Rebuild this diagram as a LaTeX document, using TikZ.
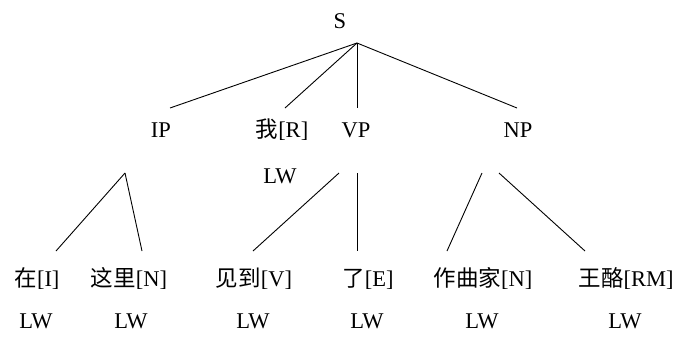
\documentclass[tikz,border=0pt]{standalone}
\usepackage{fontspec}
\setmainfont{Liberation Serif}
\newfontfamily\cjk{Noto Sans CJK SC}
\begin{document}
\begin{tikzpicture}[x=1pt,y=-1pt,
  lbl/.style={anchor=base,inner sep=0pt,font=\fontsize{22.5}{27}\selectfont},
  br/.style={line width=0.9pt}]
\useasboundingbox (0,0) rectangle (680,338);
% labels
\node[lbl] (S) at (340,28) {S};
\node[lbl] (IP) at (161,137) {IP};
\node[lbl] (R) at (282,137) {{\cjk 我}[R]};
\node[lbl] (VP) at (356,137) {VP};
\node[lbl] (NP) at (518,137) {NP};
\node[lbl] (RLW) at (280,183) {LW};
\node[lbl] (I) at (37,286) {{\cjk 在}[I]};
\node[lbl] (N1) at (129,286) {{\cjk 这里}[N]};
\node[lbl] (V) at (254,286) {{\cjk 见到}[V]};
\node[lbl] (E) at (368,286) {{\cjk 了}[E]};
\node[lbl] (N2) at (483,286) {{\cjk 作曲家}[N]};
\node[lbl] (RM) at (626,286) {{\cjk 王酪}[RM]};
\node[lbl] (ILW) at (36,328) {LW};
\node[lbl] (N1LW) at (131,328) {LW};
\node[lbl] (VLW) at (253,328) {LW};
\node[lbl] (ELW) at (367,328) {LW};
\node[lbl] (N2LW) at (482,328) {LW};
\node[lbl] (RMLW) at (625,328) {LW};
% connector end points
\coordinate (Sa) at (357,43);
\coordinate (IPt) at (170,108);
\coordinate (Rt) at (285,108);
\coordinate (VPt) at (357,108);
\coordinate (NPt) at (517,108);
\coordinate (IPa) at (125,173);
\coordinate (It) at (56,251);
\coordinate (N1t) at (142,251);
\coordinate (VPa) at (339,173);
\coordinate (VPb) at (357,173);
\coordinate (Vt) at (253,251);
\coordinate (Et) at (357,251);
\coordinate (NPa) at (482,173);
\coordinate (NPb) at (499,173);
\coordinate (N2t) at (447,251);
\coordinate (RMt) at (585,251);
% connectors
\draw[br] (Sa) -- (IPt);
\draw[br] (Sa) -- (Rt);
\draw[br] (Sa) -- (VPt);
\draw[br] (Sa) -- (NPt);
\draw[br] (IPa) -- (It);
\draw[br] (IPa) -- (N1t);
\draw[br] (VPa) -- (Vt);
\draw[br] (VPb) -- (Et);
\draw[br] (NPa) -- (N2t);
\draw[br] (NPb) -- (RMt);
\end{tikzpicture}
\end{document}
